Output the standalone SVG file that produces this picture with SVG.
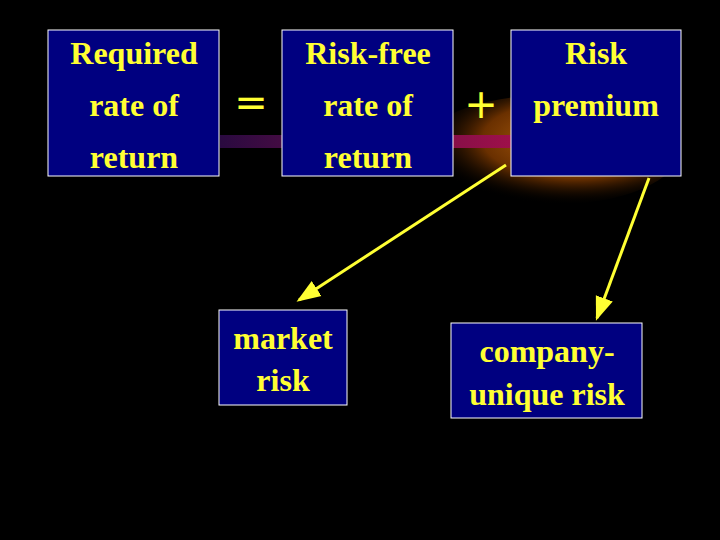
<svg xmlns="http://www.w3.org/2000/svg" width="720" height="540" viewBox="0 0 720 540">
<style>
.box{fill:#000080;stroke:#fff;stroke-width:1}
.t{font-family:"Liberation Serif",serif;font-weight:bold;font-size:32px;fill:#ffff33;text-anchor:middle}
.c{stroke:#ffff33;stroke-width:3;fill:none;marker-end:url(#a)}
</style>
<defs>
<marker id="a" markerWidth="8" markerHeight="8" refX="7" refY="4" orient="auto" markerUnits="strokeWidth"><path d="M0,1 L8,4 L0,7 Z" fill="#ffff33"/></marker>
<linearGradient id="band" x1="0" x2="1"><stop offset="0" stop-color="#2a0a40"/><stop offset="1" stop-color="#a0104a"/></linearGradient>
<radialGradient id="glow" cx="0.6" cy="0.4" r="0.6"><stop offset="0" stop-color="#c06a10"/><stop offset="0.6" stop-color="#6a3000"/><stop offset="1" stop-color="#000" stop-opacity="0"/></radialGradient>
</defs>
<rect width="720" height="540" fill="#000"/>
<ellipse cx="550" cy="150" rx="130" ry="55" fill="url(#glow)"/>
<rect x="220" y="135" width="295" height="13" fill="url(#band)"/>
<g id="n1"><rect class="box" x="48" y="30" width="171" height="146"/><text class="t" x="134" y="64">Required</text><text class="t" x="134" y="116">rate of</text><text class="t" x="134" y="168">return</text></g>
<g id="eq"><text class="t" x="251" y="116" style="font-family:'DejaVu Sans',sans-serif;font-weight:normal;font-size:40px">=</text></g>
<g id="n2"><rect class="box" x="282" y="30" width="171" height="146"/><text class="t" x="368" y="64">Risk-free</text><text class="t" x="368" y="116">rate of</text><text class="t" x="368" y="168">return</text></g>
<g id="plus"><text class="t" x="481" y="118" style="font-family:'DejaVu Sans',sans-serif;font-weight:normal;font-size:40px">+</text></g>
<g id="n3"><rect class="box" x="511" y="30" width="170" height="146"/><text class="t" x="596" y="64">Risk</text><text class="t" x="596" y="116">premium</text></g>
<g id="n4"><rect class="box" x="219" y="310" width="128" height="95"/><text class="t" x="283" y="349">market</text><text class="t" x="283" y="391">risk</text></g>
<g id="n5"><rect class="box" x="451" y="323" width="191" height="95"/><text class="t" x="547" y="362">company-</text><text class="t" x="547" y="405">unique risk</text></g>
<g id="connectors">
<line class="c" x1="506" y1="165" x2="299" y2="300"/>
<line class="c" x1="649" y1="178" x2="597" y2="318"/>
</g>
</svg>
